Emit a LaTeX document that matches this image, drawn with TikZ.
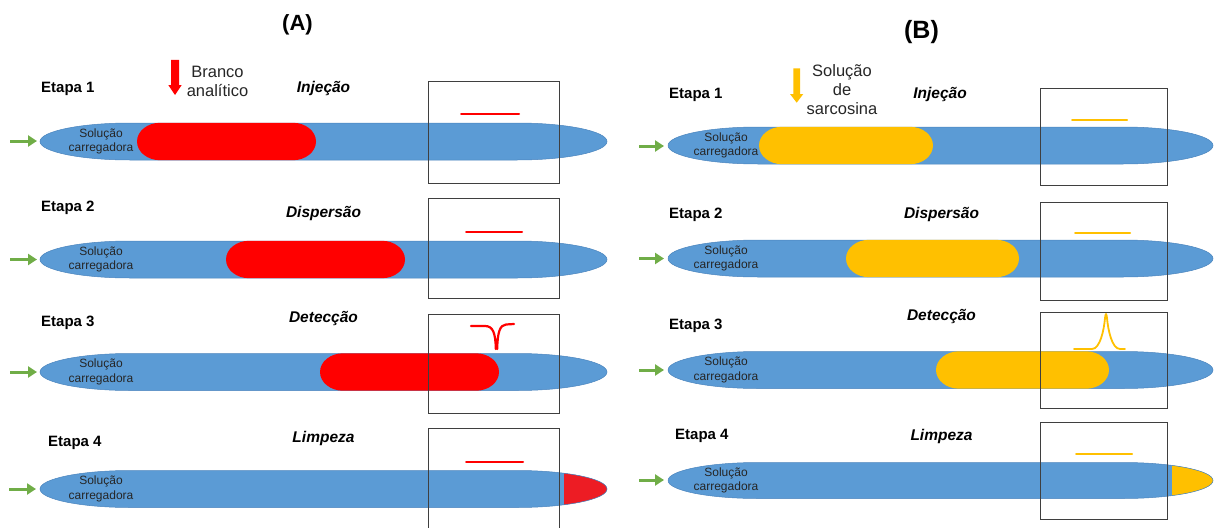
\documentclass[tikz,border=0pt]{standalone}
\usepackage{fontspec}
\setmainfont{Liberation Sans}
\usetikzlibrary{arrows.meta}

\definecolor{tubeblue}{HTML}{5B9BD5}
\definecolor{tubeedge}{HTML}{4A84BD}
\definecolor{plugred}{HTML}{FF0000}
\definecolor{capred}{HTML}{ED1C24}
\definecolor{plugyellow}{HTML}{FFC000}
\definecolor{flowgreen}{HTML}{70AD47}
\definecolor{boxgray}{HTML}{3F3F3F}

% capsule: {x0}{x1}{y centre}{cap x radius}{half height}
\newcommand\capsule[5]{(#1+#4,#3-#5) -- (#2-#4,#3-#5)
  arc[start angle=-90,end angle=90,x radius=#4,y radius=#5]
  -- (#1+#4,#3+#5)
  arc[start angle=90,end angle=270,x radius=#4,y radius=#5] -- cycle}

\tikzset{
  etapa/.style={anchor=base west, font=\fontsize{15}{18}\selectfont\bfseries, inner sep=0pt},
  fase/.style={anchor=base, font=\fontsize{15.5}{18}\selectfont\bfseries\itshape, inner sep=0pt},
  carrier/.style={align=center, font=\fontsize{12}{14.5}\selectfont, text=black!85, inner sep=0pt},
  sample/.style={align=center, font=\fontsize{16.5}{19}\selectfont, text=black!85, inner sep=0pt},
  title/.style={font=\fontsize{22}{26}\selectfont\bfseries, inner sep=0pt},
  tube/.style={fill=tubeblue},
  tubeline/.style={draw=tubeedge, line width=0.5pt},
  detbox/.style={draw=boxgray, line width=0.9pt},
  signal/.style={line width=2pt, line cap=round},
  inflow/.style={draw=flowgreen, line width=3pt, -{Triangle[length=9pt,width=11pt]}}
}

\begin{document}
\begin{tikzpicture}[x=1pt,y=-1pt]
\useasboundingbox (0,0) rectangle (1214,527);

% ---------- titles ----------
\node[title] (titA) at (297.5,25) {(A)};
\node[title, font=\fontsize{25}{28}\selectfont\bfseries] (titB) at (921.5,32) {(B)};

% ---------- column A : blank ----------
% injected sample arrow
\fill[plugred] (171,60) -- (179,60) -- (179,85) -- (181.7,85) -- (175,95) -- (168.3,85) -- (171,85) -- cycle;
\node[sample] (branco) at (217.5,81.5) {Branco\\analítico};

% row 1
\node[etapa] (eA1) at (41,92.4) {Etapa 1};
\node[fase] (fA1) at (323.5,92.3) {Injeção};
\fill[tube] \capsule{40}{607}{141.5}{90}{18.5};
\draw[tubeline] \capsule{40}{607}{141.5}{90}{18.5};
\fill[plugred] \capsule{137}{316}{141.5}{23}{18.7};
\node[carrier] (cA1) at (101,141.5) {Solução\\carregadora};
\coordinate (gA1s) at (10,141);
\coordinate (gA1e) at (37,141);
\draw[inflow] (gA1s) -- (gA1e);
\draw[signal, plugred] (461,114) -- (519,114);
\draw[detbox] (428,81) rectangle (559,183);

% row 2
\node[etapa] (eA2) at (41,211.4) {Etapa 2};
\node[fase] (fA2) at (323.5,217.6) {Dispersão};
\fill[tube] \capsule{40}{607}{259.5}{90}{18.5};
\draw[tubeline] \capsule{40}{607}{259.5}{90}{18.5};
\fill[plugred] \capsule{226}{405}{259.5}{23}{18.7};
\node[carrier] (cA2) at (101,259.5) {Solução\\carregadora};
\coordinate (gA2s) at (10,259.5);
\coordinate (gA2e) at (37,259.5);
\draw[inflow] (gA2s) -- (gA2e);
\draw[signal, plugred] (466,232) -- (522,232);
\draw[detbox] (428,198) rectangle (559,298);

% row 3
\node[etapa] (eA3) at (41,326.4) {Etapa 3};
\node[fase] (fA3) at (323.5,322.6) {Detecção};
\fill[tube] \capsule{40}{607}{372}{90}{18.5};
\draw[tubeline] \capsule{40}{607}{372}{90}{18.5};
\fill[plugred] \capsule{320}{499}{372}{23}{18.7};
\node[carrier] (cA3) at (101,372) {Solução\\carregadora};
\coordinate (gA3s) at (10,372);
\coordinate (gA3e) at (37,372);
\draw[inflow] (gA3s) -- (gA3e);
\draw[signal, plugred, line width=2.2pt] (471,326) -- (485,326)
  .. controls (493,326) and (495.5,333) .. (495.8,349)
  (497.2,349) .. controls (497.5,332) and (500,325) .. (506,324.5) -- (514,324);
\draw[detbox] (428,314) rectangle (559,413);

% row 4
\node[etapa] (eA4) at (48,446) {Etapa 4};
\node[fase] (fA4) at (323.5,442.6) {Limpeza};
\fill[tube] \capsule{40}{607}{489}{90}{18.5};
\begin{scope}
  \clip \capsule{40}{607}{489}{90}{18.5};
  \fill[capred] (564,465) rectangle (612,515);
\end{scope}
\draw[tubeline] \capsule{40}{607}{489}{90}{18.5};
\node[carrier] (cA4) at (101,489) {Solução\\carregadora};
\coordinate (gA4s) at (9,489);
\coordinate (gA4e) at (36,489);
\draw[inflow] (gA4s) -- (gA4e);
\draw[signal, plugred] (466,462) -- (523,462);
\draw[detbox] (428,428) rectangle (559,540);

% ---------- column B : sarcosine ----------
\fill[plugyellow] (793.3,68.3) -- (800,68.3) -- (800,94) -- (803.3,94) -- (796.7,102.7) -- (790,94) -- (793.3,94) -- cycle;
\node[sample] (sarc) at (842,90) {Solução\\de\\sarcosina};

% row 1
\node[etapa] (eB1) at (669,98.7) {Etapa 1};
\node[fase] (fB1) at (940,98.9) {Injeção};
\fill[tube] \capsule{668}{1213}{145.5}{90}{18.5};
\draw[tubeline] \capsule{668}{1213}{145.5}{90}{18.5};
\fill[plugyellow] \capsule{759}{933}{145.5}{23}{18.7};
\node[carrier] (cB1) at (726,145.5) {Solução\\carregadora};
\coordinate (gB1s) at (639,146);
\coordinate (gB1e) at (664,146);
\draw[inflow] (gB1s) -- (gB1e);
\draw[signal, plugyellow] (1072,120) -- (1127,120);
\draw[detbox] (1040,88) rectangle (1167,185);

% row 2
\node[etapa] (eB2) at (669,218.4) {Etapa 2};
\node[fase] (fB2) at (941.5,218.6) {Dispersão};
\fill[tube] \capsule{668}{1213}{258.5}{90}{18.5};
\draw[tubeline] \capsule{668}{1213}{258.5}{90}{18.5};
\fill[plugyellow] \capsule{846}{1019}{258.5}{23}{18.7};
\node[carrier] (cB2) at (726,258.5) {Solução\\carregadora};
\coordinate (gB2s) at (639,258.5);
\coordinate (gB2e) at (664,258.5);
\draw[inflow] (gB2s) -- (gB2e);
\draw[signal, plugyellow] (1075,233) -- (1130,233);
\draw[detbox] (1040,202) rectangle (1167,300);

% row 3
\node[etapa] (eB3) at (669,329.4) {Etapa 3};
\node[fase] (fB3) at (941.5,320.6) {Detecção};
\fill[tube] \capsule{668}{1213}{370}{90}{18.5};
\draw[tubeline] \capsule{668}{1213}{370}{90}{18.5};
\fill[plugyellow] \capsule{936}{1109}{370}{23}{18.7};
\node[carrier] (cB3) at (726,370) {Solução\\carregadora};
\coordinate (gB3s) at (639,370);
\coordinate (gB3e) at (664,370);
\draw[inflow] (gB3s) -- (gB3e);
\draw[signal, plugyellow, line width=1.8pt] (1074,349) -- (1092,349)
  .. controls (1100,349) and (1104,330) .. (1105,318)
  .. controls (1105.5,313) and (1106.5,313) .. (1107,318)
  .. controls (1108,330) and (1112,349) .. (1120,349) -- (1125,349);
\draw[detbox] (1040,312) rectangle (1167,408);

% row 4
\node[etapa] (eB4) at (675,439.4) {Etapa 4};
\node[fase] (fB4) at (941.5,440.6) {Limpeza};
\fill[tube] \capsule{668}{1213}{480.5}{90}{18};
\begin{scope}
  \clip \capsule{668}{1213}{480.5}{90}{18};
  \fill[plugyellow] (1172,455) rectangle (1218,505);
\end{scope}
\draw[tubeline] \capsule{668}{1213}{480.5}{90}{18};
\node[carrier] (cB4) at (726,480.5) {Solução\\carregadora};
\coordinate (gB4s) at (639,480);
\coordinate (gB4e) at (664,480);
\draw[inflow] (gB4s) -- (gB4e);
\draw[signal, plugyellow] (1076,454) -- (1132,454);
\draw[detbox] (1040,422) rectangle (1167,519);
\end{tikzpicture}
\end{document}
